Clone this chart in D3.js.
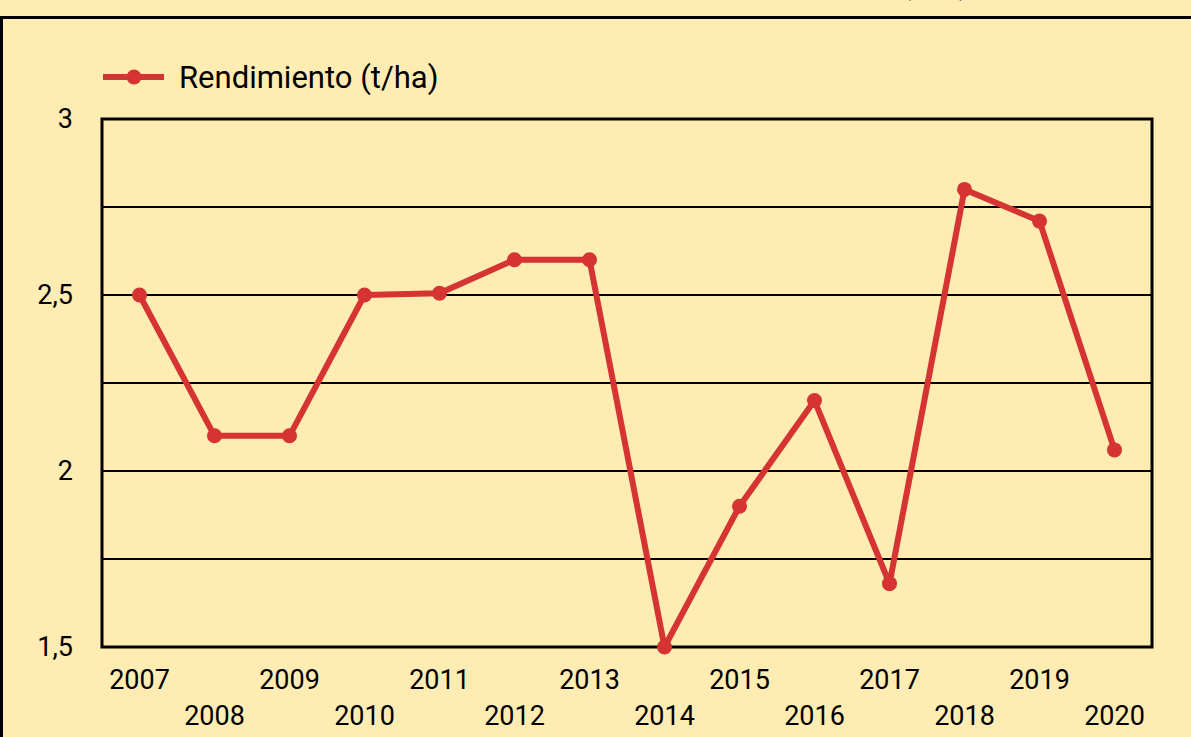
<!DOCTYPE html>
<html>
<head>
<meta charset="utf-8">
<script src="https://cdn.jsdelivr.net/npm/d3@7"></script>
<style>
  body { margin: 0; background: #FFECB3; }
  svg { display: block; font-family: Roboto, "Noto Sans", sans-serif; }
</style>
</head>
<body>
<div id="chart"></div>
<script>
// DATA
var years = ["2007", "2008", "2009", "2010", "2011", "2012", "2013",
             "2014", "2015", "2016", "2017", "2018", "2019", "2020"]
var rendimiento = [2.5, 2.1, 2.1, 2.5, 2.505, 2.6, 2.6,
                   1.5, 1.9, 2.2, 1.68, 2.8, 2.71, 2.06]
var yTicks = [1.5, 2, 2.5, 3]
var yGrid = [1.75, 2, 2.25, 2.5, 2.75]
var seriesName = "Rendimiento (t/ha)"

// DIMENSIONS
var svgWidth = 1191
var svgHeight = 737
var margin = { top: 119, left: 102, right: 39, bottom: 90 }
var width = svgWidth - margin.left - margin.right
var height = svgHeight - margin.top - margin.bottom
var red = "#D63333"

var svg = d3.select("#chart").append("svg")
    .attr("width", svgWidth)
    .attr("height", svgHeight)

svg.append("rect")
    .attr("width", svgWidth).attr("height", svgHeight)
    .attr("fill", "#FFECB3")

// title of the page, cut off by the top edge like in the original
svg.append("text")
    .attr("x", 968).attr("y", -5)
    .attr("text-anchor", "end")
    .attr("font-size", 26)
    .attr("fill", "#222")
    .text("Rendimiento y (t/ha)")

// outer frame (runs past the right and bottom edges)
svg.append("rect")
    .attr("x", 1.5).attr("y", 17.5)
    .attr("width", svgWidth + 20).attr("height", svgHeight + 20)
    .attr("fill", "none")
    .attr("stroke", "#000")
    .attr("stroke-width", 3)

var chartGroup = svg.append("g")
    .attr("transform", `translate(${margin.left}, ${margin.top})`)

var xScale = d3.scaleBand().domain(years).range([0, width])
var yScale = d3.scaleLinear().domain([1.5, 3]).range([height, 0])

// gridlines
chartGroup.selectAll("line.grid")
    .data(yGrid)
    .enter()
    .append("line")
    .attr("x1", 0).attr("x2", width)
    .attr("y1", d => yScale(d)).attr("y2", d => yScale(d))
    .attr("stroke", "#000")
    .attr("stroke-width", 2)

// plot border
chartGroup.append("rect")
    .attr("width", width).attr("height", height)
    .attr("fill", "none")
    .attr("stroke", "#000")
    .attr("stroke-width", 3)

// y axis labels
var yAxis = d3.axisLeft(yScale)
    .tickValues(yTicks)
    .tickSize(0)
    .tickPadding(29)
    .tickFormat(d => d3.format("")(d).replace(".", ","))

chartGroup.append("g")
    .call(yAxis)
    .call(g => g.select(".domain").remove())
    .selectAll("text")
    .attr("font-size", 27)
    .attr("fill", "#000")
    .attr("font-family", "Roboto, sans-serif")

// x axis labels, staggered on two rows
var xAxis = d3.axisBottom(xScale).tickSize(0).tickPadding(0)

chartGroup.append("g")
    .attr("transform", `translate(0,${height})`)
    .call(xAxis)
    .call(g => g.select(".domain").remove())
    .selectAll("text")
    .attr("dy", null)
    .attr("y", (d, i) => i % 2 === 0 ? 42 : 78)
    .attr("font-size", 27)
    .attr("fill", "#000")
    .attr("font-family", "Roboto, sans-serif")

// line
var line = d3.line()
    .x((d, i) => xScale(years[i]) + xScale.bandwidth() / 2)
    .y(d => yScale(d))

chartGroup.append("path")
    .datum(rendimiento)
    .attr("d", line)
    .attr("fill", "none")
    .attr("stroke", red)
    .attr("stroke-width", 6)
    .attr("stroke-linejoin", "round")

chartGroup.selectAll("circle")
    .data(rendimiento)
    .enter()
    .append("circle")
    .attr("cx", (d, i) => xScale(years[i]) + xScale.bandwidth() / 2)
    .attr("cy", d => yScale(d))
    .attr("r", 7.5)
    .attr("fill", red)

// legend
var legend = svg.append("g")
    .attr("transform", "translate(103, 77)")

legend.append("line")
    .attr("x1", 0).attr("x2", 61)
    .attr("stroke", red)
    .attr("stroke-width", 6)

legend.append("circle")
    .attr("cx", 31).attr("r", 7.5)
    .attr("fill", red)

legend.append("text")
    .attr("x", 76).attr("y", 11)
    .attr("font-size", 31)
    .attr("fill", "#000")
    .text(seriesName)
</script>
</body>
</html>
